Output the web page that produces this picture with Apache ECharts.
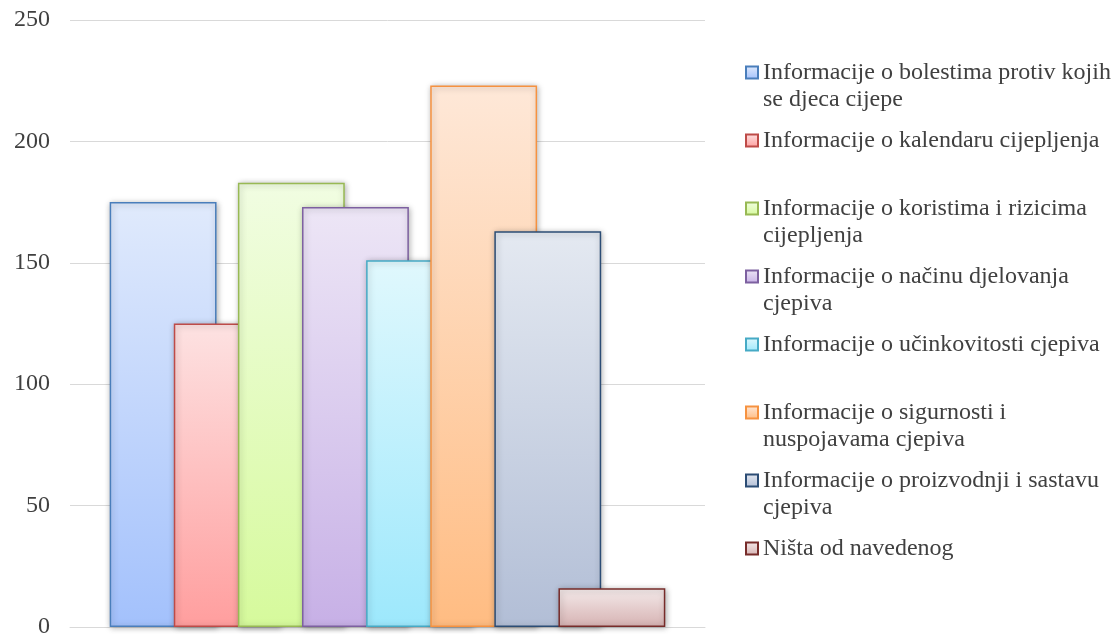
<!DOCTYPE html>
<html>
<head>
<meta charset="utf-8">
<script src="https://cdn.jsdelivr.net/npm/echarts@6/dist/echarts.min.js"></script>
<style>
  html, body { margin: 0; padding: 0; background: #fff; }
  #chart { width: 1117px; height: 634px; }
</style>
</head>
<body>
<div id="chart"></div>
<script>
var categories = [''];
var seriesNames = [
    'Informacije o bolestima protiv kojih se djeca cijepe',
    'Informacije o kalendaru cijepljenja',
    'Informacije o koristima i rizicima cijepljenja',
    'Informacije o načinu djelovanja cjepiva',
    'Informacije o učinkovitosti cjepiva',
    'Informacije o sigurnosti i nuspojavama cjepiva',
    'Informacije o proizvodnji i sastavu cjepiva',
    'Ništa od navedenog'
];
var values = [175, 125, 183, 173, 151, 223, 163, 16];
// how the legend text wraps in the reference
var legendLines = [
    ['Informacije o bolestima protiv kojih', 'se djeca cijepe'],
    ['Informacije o kalendaru cijepljenja'],
    ['Informacije o koristima i rizicima', 'cijepljenja'],
    ['Informacije o načinu djelovanja', 'cjepiva'],
    ['Informacije o učinkovitosti cjepiva'],
    ['Informacije o sigurnosti i', 'nuspojavama cjepiva'],
    ['Informacije o proizvodnji i sastavu', 'cjepiva'],
    ['Ništa od navedenog']
];
var yTicks = [0, 50, 100, 150, 200, 250];

// [top, bottom, border]
var colors = [
    ['#e0eafc', '#a3c1fc', '#4a7ebb'],
    ['#fde2e2', '#ff9e9e', '#be4b48'],
    ['#f1fde2', '#d6fa9c', '#98b954'],
    ['#ede6f6', '#c7b0e6', '#7d60a0'],
    ['#e0f8fd', '#9de8fc', '#46aac5'],
    ['#fee8d8', '#ffbc82', '#f69240'],
    ['#e4e9f1', '#b2bed6', '#2c4d75'],
    ['#f4eaea', '#d6b2b2', '#772c2a']
];

var font = '"Liberation Serif", "Times New Roman", serif';

var series = seriesNames.map(function (name, i) {
    return {
        name: name,
        type: 'bar',
        data: [values[i]],
        barGap: '-40%',
        barCategoryGap: '12.5%',
        itemStyle: {
            color: new echarts.graphic.LinearGradient(0, 0, 0, 1, [
                { offset: 0, color: colors[i][0] },
                { offset: 1, color: colors[i][1] }
            ]),
            borderColor: colors[i][2],
            borderWidth: 1.5,
            shadowColor: 'rgba(0,0,0,0.3)',
            shadowBlur: 6,
            shadowOffsetX: 1,
            shadowOffsetY: 1
        }
    };
});

var chart = echarts.init(document.getElementById('chart'));
chart.setOption({
    animation: false,
    grid: { left: 70, right: 412, top: 20, bottom: 7, outerBoundsMode: 'none' },
    legend: {
        orient: 'vertical',
        left: 740,
        top: 27,
        itemWidth: 12,
        itemHeight: 12,
        itemGap: -13,
        icon: 'rect',
        data: seriesNames,
        formatter: function (name) {
            var lines = legendLines[seriesNames.indexOf(name)];
            // empty first line keeps the icon beside the first text line
            return '\n' + lines.join('\n') + (lines.length === 1 ? '\n' : '');
        },
        textStyle: { fontFamily: font, fontSize: 24, color: '#404040', lineHeight: 27 }
    },
    xAxis: {
        type: 'category',
        data: categories,
        axisTick: { show: false },
        axisLabel: { show: false },
        axisLine: { lineStyle: { color: '#d9d9d9', width: 1 } }
    },
    yAxis: {
        type: 'value',
        min: 0,
        max: yTicks[yTicks.length - 1],
        interval: 50,
        axisLabel: { fontFamily: font, fontSize: 24, color: '#404040', margin: 20 },
        splitLine: { lineStyle: { color: '#d9d9d9', width: 1 } }
    },
    series: series
});
</script>
</body>
</html>
